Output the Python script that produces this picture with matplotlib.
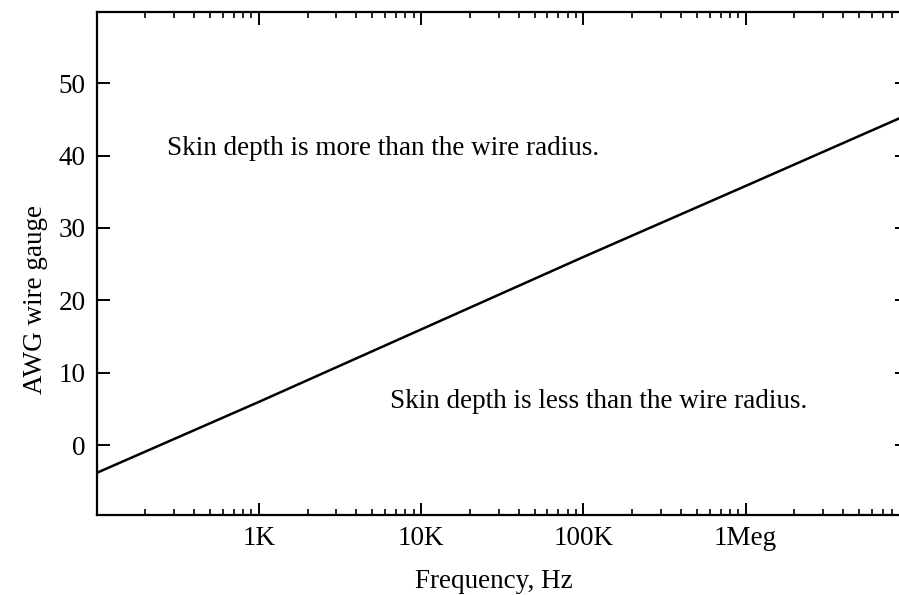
import matplotlib
matplotlib.use('Agg')
import matplotlib.pyplot as plt
from matplotlib.ticker import FixedLocator, FixedFormatter, LogLocator, NullFormatter

# ---- data ----
freq_hz = [100, 1e3, 1e4, 1e5, 1e6, 9e6]
awg_gauge = [-3.8, 6.0, 16.0, 26.0, 35.8, 45.2]
x_ticks = [1e3, 1e4, 1e5, 1e6]
x_tick_labels = ['1K', '10K', '100K', '1Meg']
y_ticks = [0, 10, 20, 30, 40, 50]
y_tick_labels = ['0', '10', '20', '30', '40', '50']
note_above = 'Skin depth is more than the wire radius.'
note_below = 'Skin depth is less than the wire radius.'
x_label = 'Frequency, Hz'
y_label = 'AWG wire gauge'

plt.rcParams['font.family'] = ['Liberation Serif', 'DejaVu Serif']

W, H = 899, 595
fig = plt.figure(figsize=(W / 100, H / 100), dpi=100)
left_px, right_px, top_px, bottom_px = 96.5, 900.5, 12, 515
ax = fig.add_axes([left_px / W, (H - bottom_px) / H,
                   (right_px - left_px) / W, (bottom_px - top_px) / H])

ax.plot(freq_hz, awg_gauge, color='black', lw=1.8, solid_capstyle='butt')

ax.set_xscale('log')
ax.set_xlim(100, 9e6)
ax.set_ylim(-9.6, 59.8)

ax.xaxis.set_major_locator(FixedLocator(x_ticks))
ax.xaxis.set_major_formatter(FixedFormatter(x_tick_labels))
ax.xaxis.set_minor_locator(LogLocator(base=10, subs=[2, 3, 4, 5, 6, 7, 8, 9], numticks=20))
ax.xaxis.set_minor_formatter(NullFormatter())
ax.yaxis.set_major_locator(FixedLocator(y_ticks))
ax.yaxis.set_major_formatter(FixedFormatter(y_tick_labels))

for s in ax.spines.values():
    s.set_linewidth(1.6)

ax.tick_params(axis='x', which='major', direction='in', top=True, bottom=True,
               length=9, width=1.4, labelsize=19.5, pad=8)
ax.tick_params(axis='x', which='minor', direction='in', top=True, bottom=True,
               length=4, width=1.2)
ax.tick_params(axis='y', which='major', direction='in', left=True, right=False,
               length=9, width=1.4, labelsize=19.5, pad=8)

sec = ax.secondary_yaxis('right')
sec.set_yticks(y_ticks)
sec.set_yticklabels([])
sec.tick_params(axis='y', direction='in', length=4.5, width=1.4)

ax.text(270, 40.1, note_above, ha='left', va='baseline', fontsize=19.5)
ax.text(6400, 5.2, note_below, ha='left', va='baseline', fontsize=19.5)

fig.text(494 / W, (H - 588) / H, x_label, ha='center', va='baseline', fontsize=19.5)
fig.text(36 / W, (H - 300) / H, y_label, ha='center', va='center', rotation=90, fontsize=19.5)

fig.savefig('out.png', dpi=100, facecolor='white')
